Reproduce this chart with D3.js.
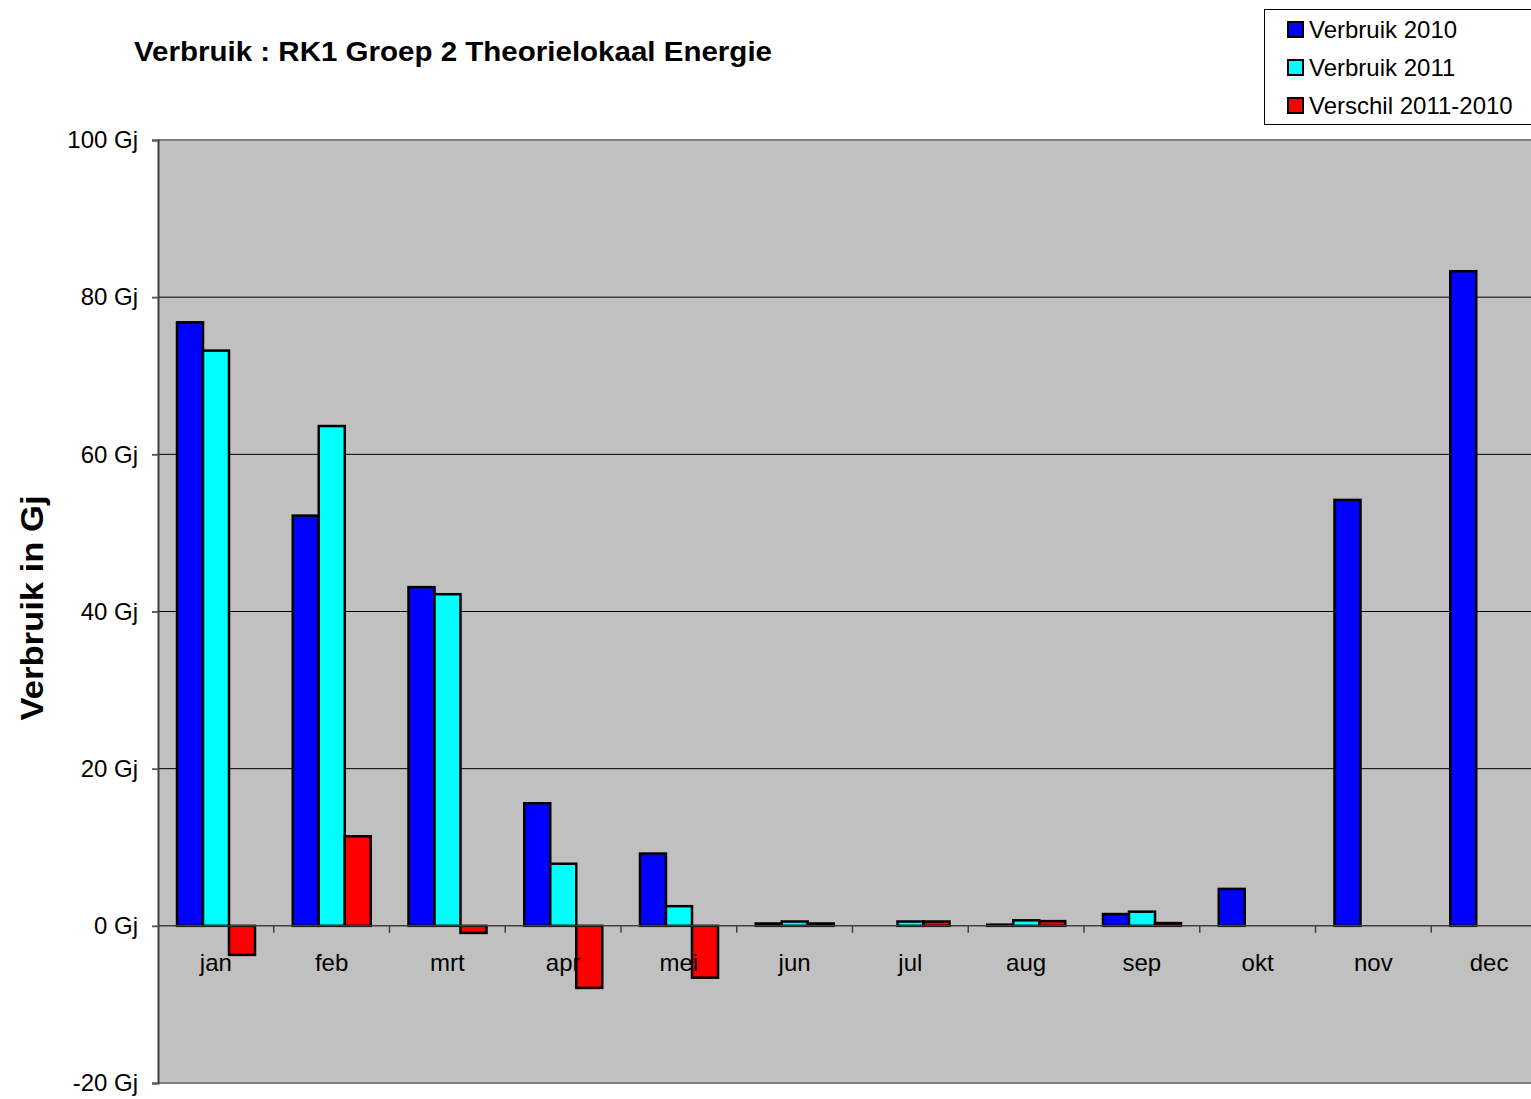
<!DOCTYPE html>
<html lang="en">

<head>
    <meta charset="UTF-8">
    <title>Verbruik RK1 Groep 2</title>
    <script src="https://d3js.org/d3.v7.min.js"></script>
    <style>
        body {
            margin: 0;
            background: #fff;
        }

        svg {
            font-family: "Liberation Sans", Arial, sans-serif;
            display: block;
        }

        .axis text {
            font-size: 24px;
            fill: #000;
        }
    </style>
</head>

<body>
    <svg width="1531" height="1099"></svg>

    <script>
        const months = ["jan", "feb", "mrt", "apr", "mei", "jun", "jul", "aug", "sep", "okt", "nov", "dec"];
        const seriesNames = ["Verbruik 2010", "Verbruik 2011", "Verschil 2011-2010"];
        const colors = ["#0000ff", "#00ffff", "#ff0000"];

        const verbruik2010 = [76.8, 52.2, 43.1, 15.6, 9.2, 0.3, 0, 0.15, 1.5, 4.7, 54.2, 83.3];
        const verbruik2011 = [73.2, 63.6, 42.2, 7.9, 2.5, 0.55, 0.55, 0.7, 1.8, null, null, null];
        const verschil = [-3.7, 11.4, -0.9, -7.9, -6.6, 0.3, 0.55, 0.6, 0.35, null, null, null];

        const yTicks = [-20, 0, 20, 40, 60, 80, 100];

        const svg = d3.select("svg");
        const plotLeft = 158, plotTop = 140, plotBottom = 1083;
        const bandWidth = 115.75;

        const x = d3.scaleBand()
            .domain(months)
            .range([plotLeft, plotLeft + months.length * bandWidth]);

        // three bars side by side inside each month
        const xs = d3.scaleBand()
            .domain(seriesNames)
            .range([19, 97]);

        const y = d3.scaleLinear()
            .domain([-20, 100])
            .range([plotBottom, plotTop]);

        const series = [verbruik2010, verbruik2011, verschil];
        const plotRight = x.range()[1];

        // plot background
        svg.append("rect")
            .attr("x", plotLeft)
            .attr("y", plotTop)
            .attr("width", plotRight - plotLeft)
            .attr("height", plotBottom - plotTop)
            .attr("fill", "#c0c0c0");

        // gridlines
        svg.append("g")
            .selectAll("line")
            .data(yTicks.filter(d => d > 0 && d < 100))
            .join("line")
            .attr("x1", plotLeft)
            .attr("x2", plotRight)
            .attr("y1", d => y(d))
            .attr("y2", d => y(d))
            .attr("stroke", "#000")
            .attr("stroke-width", 1);

        // top + bottom border
        svg.append("line")
            .attr("x1", plotLeft).attr("x2", plotRight)
            .attr("y1", plotTop).attr("y2", plotTop)
            .attr("stroke", "#808080").attr("stroke-width", 2);
        svg.append("line")
            .attr("x1", plotLeft).attr("x2", plotRight)
            .attr("y1", plotBottom).attr("y2", plotBottom)
            .attr("stroke", "#808080").attr("stroke-width", 2);

        // y axis
        const yAxis = svg.append("g")
            .attr("class", "axis")
            .attr("transform", `translate(${plotLeft},0)`)
            .call(d3.axisLeft(y).tickValues(yTicks).tickFormat(d => d + " Gj").tickSize(6).tickPadding(14));
        yAxis.select(".domain").attr("stroke", "#404040").attr("stroke-width", 2);
        yAxis.selectAll(".tick line").attr("stroke", "#606060").attr("stroke-width", 2);

        // bars
        series.forEach((vals, si) => {
            svg.append("g")
                .selectAll("rect")
                .data(months.map((m, i) => ({ m, v: vals[i] })).filter(d => d.v !== null && d.v !== 0))
                .join("rect")
                .attr("x", d => x(d.m) + xs(seriesNames[si]))
                .attr("width", xs.bandwidth())
                .attr("y", d => y(Math.max(0, d.v)))
                .attr("height", d => Math.abs(y(d.v) - y(0)))
                .attr("fill", colors[si])
                .attr("stroke", "#000")
                .attr("stroke-width", 2.5);
        });

        // x axis at zero
        svg.append("line")
            .attr("x1", plotLeft).attr("x2", plotRight)
            .attr("y1", y(0)).attr("y2", y(0))
            .attr("stroke", "#404040").attr("stroke-width", 1.5);

        svg.append("g")
            .selectAll("line")
            .data(months.slice(1))
            .join("line")
            .attr("x1", d => x(d))
            .attr("x2", d => x(d))
            .attr("y1", y(0))
            .attr("y2", y(0) + 7)
            .attr("stroke", "#404040")
            .attr("stroke-width", 1.5);

        svg.append("g")
            .attr("class", "axis")
            .selectAll("text")
            .data(months)
            .join("text")
            .attr("x", d => x(d) + x.bandwidth() / 2)
            .attr("y", y(0) + 45)
            .attr("text-anchor", "middle")
            .text(d => d);

        // title
        svg.append("text")
            .attr("x", 134)
            .attr("y", 61)
            .attr("font-size", 28)
            .attr("font-weight", "bold")
            .attr("textLength", 638)
            .attr("lengthAdjust", "spacingAndGlyphs")
            .text("Verbruik : RK1 Groep 2 Theorielokaal Energie");

        // y axis title
        svg.append("text")
            .attr("transform", "translate(43,608) rotate(-90)")
            .attr("text-anchor", "middle")
            .attr("font-size", 31)
            .attr("font-weight", "bold")
            .attr("textLength", 225)
            .attr("lengthAdjust", "spacingAndGlyphs")
            .text("Verbruik in Gj");

        // legend
        const legend = svg.append("g");
        legend.append("rect")
            .attr("x", 1264.5).attr("y", 9.5)
            .attr("width", 290).attr("height", 115)
            .attr("fill", "#fff").attr("stroke", "#000").attr("stroke-width", 1);

        seriesNames.forEach((name, i) => {
            const cy = 29 + i * 38;
            legend.append("rect")
                .attr("x", 1288).attr("y", cy - 7)
                .attr("width", 15).attr("height", 15)
                .attr("fill", colors[i]).attr("stroke", "#000").attr("stroke-width", 2);
            legend.append("text")
                .attr("x", 1309).attr("y", cy + 9)
                .attr("font-size", 24)
                .text(name);
        });
    </script>
</body>

</html>
